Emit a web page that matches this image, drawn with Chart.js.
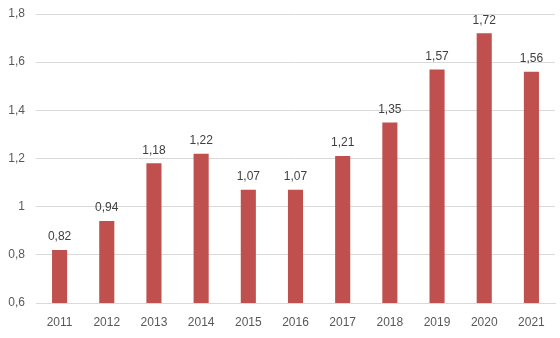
<!DOCTYPE html>
<html>
<head>
<meta charset="utf-8">
<script src="https://cdn.jsdelivr.net/npm/chart.js@4"></script>
<style>
  html, body { margin: 0; padding: 0; background: #fff; }
  #wrap { width: 560px; height: 338px; }
</style>
</head>
<body>
<div id="wrap"><canvas id="myChart" width="560" height="338"></canvas></div>
<script>
const years = ['2011', '2012', '2013', '2014', '2015', '2016', '2017', '2018', '2019', '2020', '2021'];
const values = [0.82, 0.94, 1.18, 1.22, 1.07, 1.07, 1.21, 1.35, 1.57, 1.72, 1.56];
const yTicks = [0.6, 0.8, 1, 1.2, 1.4, 1.6, 1.8];

const comma = v => String(v).replace('.', ',');

// labels above each bar
const barLabels = {
  id: 'barLabels',
  afterDatasetsDraw(chart) {
    const ctx = chart.ctx;
    const meta = chart.getDatasetMeta(0);
    ctx.save();
    ctx.font = '12px "Liberation Sans", Arial, sans-serif';
    ctx.fillStyle = '#404040';
    ctx.textAlign = 'center';
    ctx.textBaseline = 'bottom';
    meta.data.forEach((bar, i) => {
      ctx.fillText(values[i].toFixed(2).replace('.', ','), bar.x, bar.y - 7);
    });
    ctx.restore();
  }
};

const ctx = document.getElementById('myChart').getContext('2d');
const myChart = new Chart(ctx, {
  type: 'bar',
  data: {
    labels: years,
    datasets: [{
      data: values,
      backgroundColor: '#C0504D',
      barPercentage: 0.64,
      categoryPercentage: 0.5
    }]
  },
  options: {
    responsive: false,
    animation: false,
    layout: { padding: { top: 14, right: 5, bottom: 0, left: 0 } },
    plugins: { legend: { display: false }, tooltip: { enabled: false } },
    scales: {
      x: {
        afterFit(scale) { scale.height = 35; },
        grid: { display: false, drawTicks: false },
        border: { color: '#d9d9d9' },
        ticks: {
          color: '#595959',
          padding: 12,
          font: { family: '"Liberation Sans", Arial, sans-serif', size: 12 }
        }
      },
      y: {
        min: 0.6,
        max: 1.8,
        afterFit(scale) {
          scale.width = 36;
          scale.paddingTop = 0;
          scale.paddingBottom = 0;
        },
        afterBuildTicks(scale) { scale.ticks = yTicks.map(v => ({ value: v })); },
        grid: { color: '#d9d9d9', drawTicks: false },
        border: { display: false },
        ticks: {
          color: '#595959',
          padding: 11,
          font: { family: '"Liberation Sans", Arial, sans-serif', size: 12 },
          callback: v => comma(Math.round(v * 10) / 10)
        }
      }
    }
  },
  plugins: [barLabels]
});
</script>
</body>
</html>
